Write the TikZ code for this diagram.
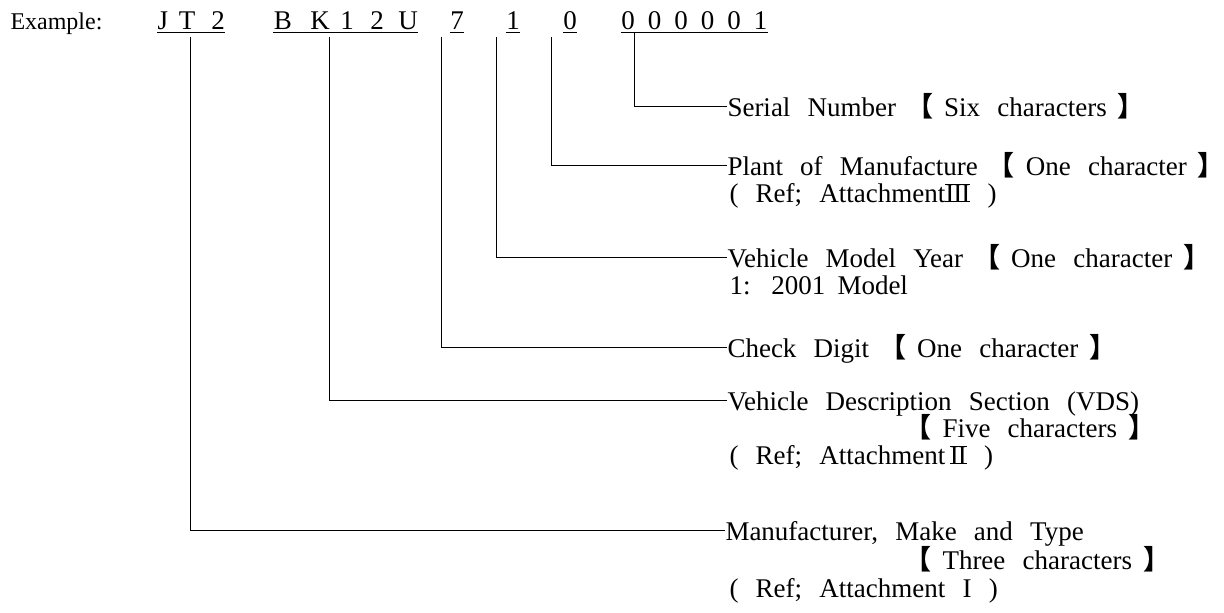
\documentclass[tikz,border=0pt]{standalone}
\usepackage{fontspec}
\setmainfont{Liberation Serif}[WordSpace=2.55]
\newfontfamily\cjk{Noto Sans CJK SC}
\usetikzlibrary{positioning}
\newcommand\lbr{\hspace{10pt}{\cjk\bfseries 【}\hspace{11pt}}
\newcommand\rbr{\hspace{11pt}{\cjk\bfseries 】}}
\newcommand\romnum[1]{\leavevmode\setbox0\hbox{#1}\rlap{\rule{\wd0}{0.8pt}}\rlap{\rule[\dimexpr\ht0-0.8pt\relax]{\wd0}{0.8pt}}\box0\relax}

\begin{document}
\begin{tikzpicture}[x=1pt,y=-1pt,line width=1pt,
	chr/.style={anchor=base,inner sep=0pt,font=\fontsize{27}{28}\selectfont},
	lbl/.style={anchor=base west,inner sep=0pt,text height=20pt,text depth=0pt,font=\fontsize{27}{28}\selectfont},
	leader/.style={to path={|- (\tikztotarget)}}]
	\useasboundingbox (0,0) rectangle (1224,613);
	\node[lbl,font=\fontsize{24}{25}\selectfont] (ex) at (10,29) {Example:};
	% the code, character by character
	\node[chr] (j)  at (163,29) {J};
	\node[chr] (t)  at (187,29) {T};
	\node[chr] (c2) at (218,29) {2};
	\node[chr] (b)  at (283,29) {B};
	\node[chr] (k)  at (320,29) {K};
	\node[chr] (v1) at (347,29) {1};
	\node[chr] (v2) at (377,29) {2};
	\node[chr] (u)  at (408,29) {U};
	\node[chr] (c7) at (457,29) {7};
	\node[chr] (y1) at (513,29) {1};
	\node[chr] (p0) at (570,29) {0};
	\foreach \d [count=\i] in {0,0,0,0,0,1}
		\node[chr] (s\i) at ({628+26.5*(\i-1)},29) {\d};
	% underlines
	\draw ([yshift=-3pt]j.base west)  -- ([yshift=-3pt]c2.base east);
	\draw ([yshift=-3pt]b.base west)  -- ([yshift=-3pt]u.base east);
	\draw ([yshift=-3pt]c7.base west) -- ([yshift=-3pt]c7.base east);
	\draw ([yshift=-3pt]y1.base west) -- ([yshift=-3pt]y1.base east);
	\draw ([yshift=-3pt]p0.base west) -- ([yshift=-3pt]p0.base east);
	\draw ([yshift=-3pt]s1.base west) -- ([yshift=-3pt]s6.base east);
	% where the leaders start
	\coordinate (dT) at (190,37);
	\coordinate (dK) at (329,37);
	\coordinate (d7) at (441,37);
	\coordinate (d1) at (496,37);
	\coordinate (d0) at (551,37);
	\coordinate (dS) at (634,32);
	% labels
	\node[lbl] (serial)   at (727,116) {Serial Number\lbr Six characters\rbr};
	\node[lbl] (plant)    at (727,175) {Plant of Manufacture\lbr One character\rbr};
	\node[lbl] (plantref) at (729,202) {( Ref; Attachment\romnum{I\kern-1pt I\kern-1pt I} )};
	\node[lbl] (year)     at (727,267) {Vehicle Model Year\lbr One character\rbr};
	\node[lbl] (yearex)   at (729,294) {1:\hspace{21pt}2001\hspace{12pt}Model};
	\node[lbl] (check)    at (727,357) {Check Digit\lbr One character\rbr};
	\node[lbl] (vds)      at (727,410) {Vehicle Description Section (VDS)};
	\node[lbl] (vdsn)     at (894,437) {\lbr Five characters\rbr};
	\node[lbl] (vdsref)   at (729,464) {( Ref; Attachment\,\romnum{I\kern-1pt I} )};
	\node[lbl] (mfr)      at (725,540) {Manufacturer, Make and Type};
	\node[lbl] (mfrn)     at (894,569) {\lbr Three characters\rbr};
	\node[lbl] (mfrref)   at (729,597) {( Ref; Attachment I )};
	\path (dS) edge [leader] (serial.west)
		  (d0) edge [leader] (plant.west)
		  (d1) edge [leader] (year.west)
		  (d7) edge [leader] (check.west)
		  (dK) edge [leader] (vds.west)
		  (dT) edge [leader] (mfr.west);
\end{tikzpicture}
\end{document}
